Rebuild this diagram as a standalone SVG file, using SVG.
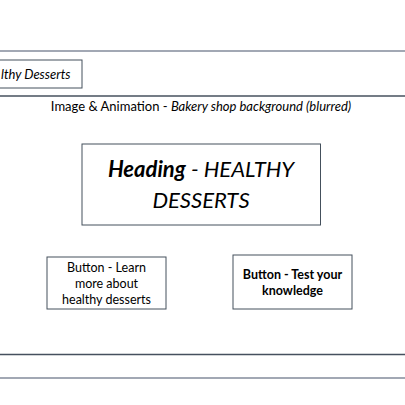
<svg xmlns="http://www.w3.org/2000/svg" width="405" height="405" viewBox="0 0 405 405">
<style>
.box{fill:#fff;stroke:#44505c;stroke-width:1}
.t{font-family:Lato,"Open Sans","Liberation Sans",sans-serif;fill:#000;text-anchor:middle}
.sep{stroke-width:2;stroke:#a2a8b4}
.dk{stroke-width:1.3;stroke:#46505e}
</style>
<rect width="405" height="405" fill="#fff"/>
<g id="connectors">
<line class="sep" x1="0" y1="51" x2="405" y2="51"/>
<line class="dk" x1="0" y1="96" x2="405" y2="96"/>
<line class="dk" x1="0" y1="354.5" x2="405" y2="354.5"/>
<line class="sep" x1="0" y1="378" x2="405" y2="378"/>
</g>
<g id="logo">
<rect class="box" x="-10" y="60" width="92" height="28"/>
<text class="t" x="1" y="79" style="text-anchor:start;font-style:italic;font-size:13px">lthy Desserts</text>
</g>
<g id="background">
<text class="t" x="201" y="111" font-size="13">Image &amp; Animation - <tspan font-style="italic">Bakery shop background (blurred)</tspan></text>
</g>
<g id="heading">
<rect class="box" x="82" y="144" width="238.5" height="81"/>
<text class="t" x="201" y="177" font-size="22" font-style="italic"><tspan font-weight="bold">Heading</tspan> - HEALTHY</text>
<text class="t" x="201" y="208" font-size="22" font-style="italic">DESSERTS</text>
</g>
<g id="button-learn">
<rect class="box" x="47" y="257" width="119" height="52"/>
<text class="t" x="106.5" y="272" font-size="12.5">Button - Learn</text>
<text class="t" x="106.5" y="288" font-size="12.5">more about</text>
<text class="t" x="106.5" y="304" font-size="12.5">healthy desserts</text>
</g>
<g id="button-test">
<rect class="box" x="233" y="255" width="119" height="54"/>
<text class="t" x="292.5" y="279" font-size="12.5" font-weight="bold">Button - Test your</text>
<text class="t" x="292.5" y="295" font-size="12.5" font-weight="bold">knowledge</text>
</g>
</svg>
